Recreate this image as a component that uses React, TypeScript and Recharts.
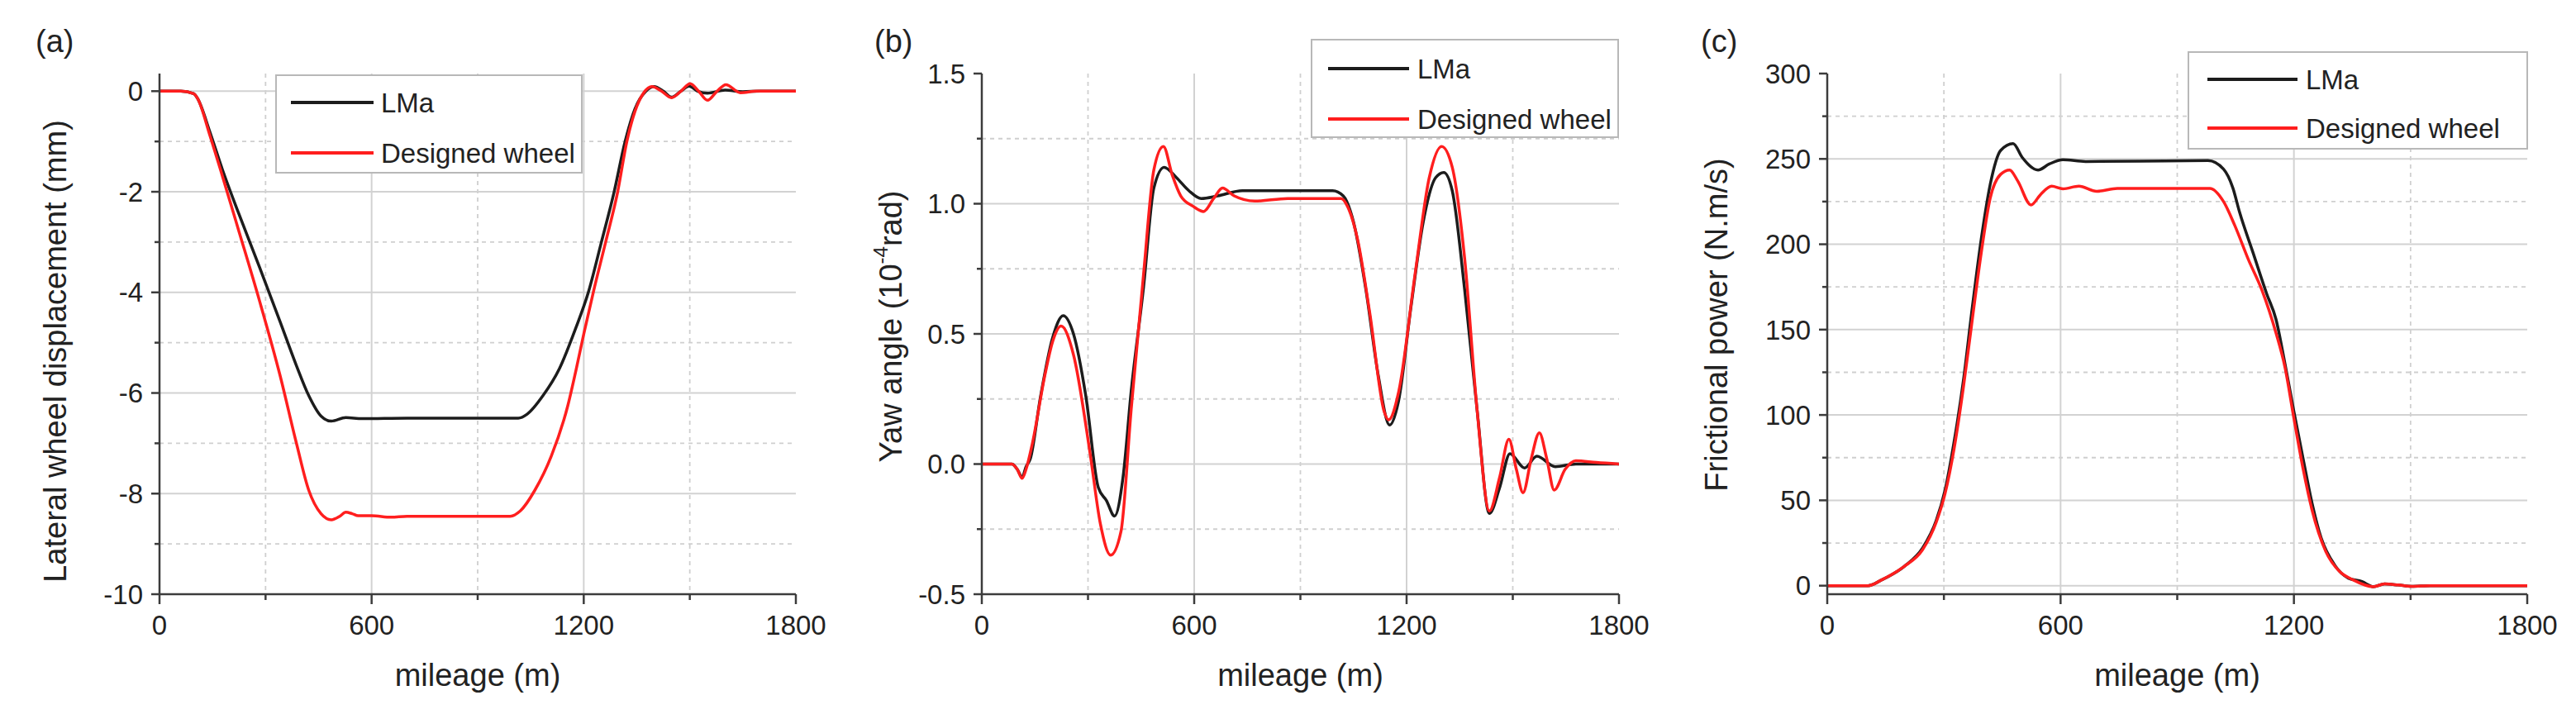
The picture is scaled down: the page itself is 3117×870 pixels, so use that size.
import React from 'react';
import { LineChart, Line, XAxis, YAxis, CartesianGrid, Legend, Label } from 'recharts';

const FONT = "'Liberation Sans', Arial, sans-serif";
const AXIS = '#3c3c3c';
const BLACK = '#1c1c1c';
const RED = '#ff1e1e';

const seriesNames = ['LMa', 'Designed wheel'];

// mileage axis shared by the three panels
const mileageTicks = [0, 300, 600, 900, 1200, 1500, 1800];
const mileageMajor = [0, 600, 1200, 1800];

// (a) lateral wheel displacement (mm)
const dispTicks = [0, -1, -2, -3, -4, -5, -6, -7, -8, -9, -10];
const dispMajor = [0, -2, -4, -6, -8, -10];
const xDispLMa = [0, 60, 97, 108, 143, 178, 224, 283, 341, 387, 422, 457, 486, 527, 573, 700, 900, 1015, 1040, 1085, 1131, 1178, 1213, 1250, 1286, 1317, 1345, 1376, 1399, 1425, 1448, 1475, 1498, 1522, 1550, 1600, 1650, 1700, 1800];
const yDispLMa = [0, 0, -0.05, -0.15, -0.82, -1.56, -2.43, -3.5, -4.58, -5.45, -6.05, -6.46, -6.56, -6.49, -6.51, -6.5, -6.5, -6.5, -6.42, -6.05, -5.52, -4.7, -4.0, -3.0, -2.0, -1.0, -0.35, 0.0, 0.09, 0.0, -0.12, 0.0, 0.1, 0.0, -0.04, 0.02, -0.01, 0, 0];
const xDispNew = [0, 60, 97, 108, 143, 178, 224, 283, 341, 387, 422, 457, 486, 510, 527, 545, 562, 600, 655, 700, 992, 1021, 1062, 1108, 1155, 1178, 1201, 1227, 1262, 1296, 1322, 1345, 1370, 1393, 1420, 1448, 1475, 1501, 1525, 1550, 1577, 1602, 1643, 1690, 1800];
const yDispNew = [0, 0, -0.05, -0.15, -0.89, -1.69, -2.77, -4.17, -5.65, -6.99, -7.93, -8.4, -8.52, -8.45, -8.37, -8.4, -8.44, -8.44, -8.47, -8.45, -8.45, -8.34, -7.93, -7.26, -6.25, -5.55, -4.8, -4.0, -3.0, -2.0, -1.0, -0.4, -0.03, 0.09, 0.0, -0.13, 0.0, 0.15, 0.0, -0.18, 0.0, 0.13, -0.03, 0, 0];

// (b) yaw angle (1e-4 rad)
const yawTicks = [-0.5, -0.25, 0, 0.25, 0.5, 0.75, 1.0, 1.25, 1.5];
const yawMajor = [-0.5, 0, 0.5, 1.0, 1.5];
const xYawLMa = [0, 85, 100, 114, 125, 137, 166, 201, 230, 259, 294, 329, 352, 375, 399, 422, 457, 486, 515, 550, 585, 620, 666, 736, 991, 1021, 1050, 1085, 1120, 1152, 1177, 1212, 1247, 1282, 1305, 1329, 1364, 1399, 1434, 1463, 1492, 1533, 1568, 1620, 1678, 1800];
const yYawLMa = [0, 0, -0.02, -0.05, -0.01, 0.02, 0.26, 0.49, 0.57, 0.5, 0.26, -0.09, -0.14, -0.2, -0.05, 0.28, 0.68, 1.06, 1.14, 1.1, 1.05, 1.02, 1.03, 1.05, 1.05, 1.03, 0.93, 0.67, 0.34, 0.15, 0.24, 0.6, 0.93, 1.1, 1.12, 1.05, 0.67, 0.21, -0.19, -0.09, 0.04, -0.015, 0.03, -0.01, 0, 0];
const xYawNew = [0, 85, 100, 114, 125, 143, 178, 200, 224, 259, 306, 335, 364, 393, 422, 457, 486, 513, 538, 562, 597, 626, 655, 680, 713, 771, 864, 1015, 1033, 1062, 1096, 1137, 1149, 1178, 1224, 1264, 1299, 1329, 1364, 1399, 1434, 1463, 1489, 1510, 1529, 1552, 1575, 1596, 1617, 1648, 1678, 1736, 1800];
const yYawNew = [0, 0, -0.02, -0.055, -0.02, 0.08, 0.34, 0.47, 0.53, 0.42, 0.04, -0.23, -0.35, -0.26, 0.21, 0.73, 1.13, 1.22, 1.11, 1.03, 0.99, 0.97, 1.02, 1.06, 1.03, 1.01, 1.02, 1.02, 0.99, 0.86, 0.58, 0.2, 0.17, 0.28, 0.73, 1.1, 1.22, 1.14, 0.79, 0.21, -0.18, -0.05, 0.095, -0.02, -0.11, 0.02, 0.12, 0.02, -0.1, -0.02, 0.013, 0.006, 0];

// (c) frictional power (N.m/s)
const powTicks = [0, 25, 50, 75, 100, 125, 150, 175, 200, 225, 250, 275, 300];
const powMajor = [0, 50, 100, 150, 200, 250, 300];
const xPowLMa = [0, 105, 140, 198, 245, 280, 303, 326, 350, 373, 396, 419, 446, 478, 501, 542, 571, 606, 664, 804, 979, 1019, 1043, 1060, 1095, 1130, 1154, 1177, 1200, 1224, 1247, 1270, 1305, 1340, 1375, 1404, 1433, 1468, 1503, 1550, 1800];
const yPowLMa = [0, 0, 3.4, 11.3, 22, 38, 56, 84, 120, 163, 203, 235, 255, 259, 251, 243.5, 247, 249.5, 248.5, 248.7, 249, 244, 233, 219, 195, 171, 156, 130, 102, 74, 48, 28, 12, 4.4, 2.4, -0.6, 1, 0.4, -0.4, 0, 0];
const xPowNew = [0, 105, 140, 198, 245, 280, 303, 326, 350, 373, 396, 419, 446, 469, 490, 524, 548, 577, 606, 647, 693, 746, 984, 1019, 1048, 1083, 1118, 1154, 1177, 1200, 1224, 1247, 1282, 1317, 1352, 1404, 1433, 1468, 1503, 1550, 1800];
const yPowNew = [0, 0, 3.4, 11.3, 21, 37, 54, 80, 116, 156, 195, 227, 241, 243.5, 237, 223, 229, 234, 232.5, 234, 231, 232.7, 232.7, 225, 211, 191, 173, 148, 128, 98, 68, 44, 20, 8.4, 3.4, -0.6, 1, 0.4, -0.4, 0, 0];

const zip = (xs: number[], ys: number[]) => xs.map((x, i) => ({ x, y: ys[i] }));

const TICK_SIZE = 12;
const TICK_MARGIN = 14;
const YTICK_SIZE = 10;
const YTICK_MARGIN = 10;

function makeXTick(major: number[]) {
  return (props: any) => {
    const { x, y, payload } = props;
    const isMajor = major.includes(payload.value);
    const axisY = y - TICK_SIZE - TICK_MARGIN;
    return (
      <g>
        <line x1={x} x2={x} y1={axisY} y2={axisY + (isMajor ? 12 : 7)} stroke={AXIS} strokeWidth={2.5} />
        {isMajor && (
          <text x={x} y={y} dy="0.71em" textAnchor="middle" fontSize={33} fill="#222" fontFamily={FONT}>
            {payload.value}
          </text>
        )}
      </g>
    );
  };
}

function makeYTick(major: number[], fmt: (v: number) => string) {
  return (props: any) => {
    const { x, y, payload } = props;
    const isMajor = major.includes(payload.value);
    const axisX = x + YTICK_SIZE + YTICK_MARGIN;
    return (
      <g>
        <line x1={axisX - (isMajor ? 10 : 6)} x2={axisX} y1={y} y2={y} stroke={AXIS} strokeWidth={2.5} />
        {isMajor && (
          <text x={x} y={y} dy="0.355em" textAnchor="end" fontSize={33} fill="#222" fontFamily={FONT}>
            {fmt(payload.value)}
          </text>
        )}
      </g>
    );
  };
}

interface LegendBox {
  left: number;
  top: number;
  width: number;
  height: number;
  lineX: number;
  lineW: number;
  textX: number;
  rows: number[];
}

function makeLegend(box: LegendBox) {
  return (props: any) => {
    const items = [...(props.payload || [])].sort(
      (a: any, b: any) => seriesNames.indexOf(a.value) - seriesNames.indexOf(b.value)
    );
    return (
      <div
        style={{
          position: 'relative',
          width: box.width,
          height: box.height,
          boxSizing: 'border-box',
          border: '2px solid #b8b8b8',
          background: '#fff',
          fontFamily: FONT,
        }}
      >
        {items.map((p: any, i: number) => (
          <React.Fragment key={p.value}>
            <div
              style={{
                position: 'absolute',
                left: box.lineX,
                top: box.rows[i] - 2,
                width: box.lineW,
                height: 3.5,
                background: p.color,
              }}
            />
            <div
              style={{
                position: 'absolute',
                left: box.textX,
                top: box.rows[i] - 19,
                fontSize: 33,
                lineHeight: '40px',
                color: '#222',
                whiteSpace: 'nowrap',
              }}
            >
              {p.value}
            </div>
          </React.Fragment>
        ))}
      </div>
    );
  };
}

interface PanelProps {
  left: number;
  width: number;
  yAxisWidth: number;
  rightMargin: number;
  yDomain: [number, number];
  yTicks: number[];
  yMajor: number[];
  yFmt: (v: number) => string;
  lma: { x: number; y: number }[];
  designed: { x: number; y: number }[];
  legend: LegendBox;
  yTitle: React.ReactNode;
  yTitleX: number;
  yTitleY: number;
}

function Panel(p: PanelProps) {
  const minorX = mileageTicks.filter((t) => !mileageMajor.includes(t));
  const majorXInner = mileageMajor.filter((t) => t !== 0 && t !== 1800);
  const minorY = p.yTicks.filter((t) => !p.yMajor.includes(t));
  const majorYInner = p.yMajor.filter((t) => t > p.yDomain[0] && t < p.yDomain[1]);
  return (
    <div style={{ position: 'absolute', left: p.left, top: 0 }}>
      <LineChart width={p.width} height={870} margin={{ top: 89, right: p.rightMargin, bottom: 0, left: 0 }}>
        <CartesianGrid
          horizontal
          vertical
          horizontalValues={minorY}
          verticalValues={minorX}
          stroke="#cfcfcf"
          strokeWidth={1.8}
          strokeDasharray="5 5"
        />
        <CartesianGrid
          horizontal
          vertical
          horizontalValues={majorYInner}
          verticalValues={majorXInner}
          stroke="#d2d2d2"
          strokeWidth={2}
        />
        <XAxis
          dataKey="x"
          type="number"
          domain={[0, 1800]}
          ticks={mileageTicks}
          interval={0}
          height={151}
          tickSize={TICK_SIZE}
          tickMargin={TICK_MARGIN}
          tickLine={false}
          axisLine={{ stroke: AXIS, strokeWidth: 2.5 }}
          tick={makeXTick(mileageMajor)}
          allowDataOverflow
        >
          <Label
            content={(lp: any) => {
              const vb = lp.viewBox || {};
              return (
                <text
                  x={vb.x + vb.width / 2}
                  y={817}
                  textAnchor="middle"
                  dominantBaseline="central"
                  fontSize={38}
                  fill="#222"
                  fontFamily={FONT}
                >
                  mileage (m)
                </text>
              );
            }}
          />
        </XAxis>
        <XAxis
          xAxisId="frame"
          orientation="top"
          type="number"
          domain={[0, 1800]}
          height={0}
          tick={false}
          tickLine={false}
          axisLine={{ stroke: '#505050', strokeWidth: 2.5 }}
        />
        <YAxis
          type="number"
          domain={p.yDomain}
          ticks={p.yTicks}
          interval={0}
          width={p.yAxisWidth}
          tickSize={YTICK_SIZE}
          tickMargin={YTICK_MARGIN}
          tickLine={false}
          axisLine={{ stroke: AXIS, strokeWidth: 2.5 }}
          tick={makeYTick(p.yMajor, p.yFmt)}
          allowDataOverflow
        >
          <Label
            content={() => (
              <text
                x={p.yTitleX}
                y={p.yTitleY}
                transform={`rotate(-90 ${p.yTitleX} ${p.yTitleY})`}
                textAnchor="middle"
                dominantBaseline="central"
                fontSize={38}
                fill="#222"
                fontFamily={FONT}
              >
                {p.yTitle}
              </text>
            )}
          />
        </YAxis>
        <YAxis
          yAxisId="frame"
          orientation="right"
          type="number"
          domain={p.yDomain}
          width={0}
          tick={false}
          tickLine={false}
          axisLine={{ stroke: '#505050', strokeWidth: 2.5 }}
        />
        <Legend
          layout="horizontal"
          verticalAlign="middle"
          align="center"
          wrapperStyle={{ left: p.legend.left, top: p.legend.top, width: p.legend.width, height: p.legend.height }}
          content={makeLegend(p.legend)}
        />
        <Line
          data={p.lma}
          dataKey="y"
          name="LMa"
          type="monotone"
          stroke={BLACK}
          strokeWidth={3.5}
          dot={false}
          isAnimationActive={false}
        />
        <Line
          data={p.designed}
          dataKey="y"
          name="Designed wheel"
          type="monotone"
          stroke={RED}
          strokeWidth={3.5}
          dot={false}
          isAnimationActive={false}
        />
      </LineChart>
    </div>
  );
}

const panelLabel = (text: string, left: number) => (
  <div
    style={{
      position: 'absolute',
      left,
      top: 30,
      fontSize: 38,
      lineHeight: '40px',
      fontFamily: FONT,
      color: '#222',
    }}
  >
    {text}
  </div>
);

export default function App() {
  return (
    <div style={{ position: 'absolute', left: 0, top: 0, width: 3117, height: 870, background: '#fff', fontFamily: FONT }}>
      <Panel
        left={0}
        width={1000}
        yAxisWidth={193}
        rightMargin={37}
        yDomain={[-10, 0.35]}
        yTicks={dispTicks}
        yMajor={dispMajor}
        yFmt={(v) => String(v)}
        lma={zip(xDispLMa, yDispLMa)}
        designed={zip(xDispNew, yDispNew)}
        legend={{ left: 333, top: 90, width: 372, height: 120, lineX: 17, lineW: 100, textX: 126, rows: [32, 93] }}
        yTitle="Lateral wheel displacement (mm)"
        yTitleX={67}
        yTitleY={425}
      />
      <Panel
        left={1000}
        width={1000}
        yAxisWidth={188}
        rightMargin={41}
        yDomain={[-0.5, 1.5]}
        yTicks={yawTicks}
        yMajor={yawMajor}
        yFmt={(v) => v.toFixed(1)}
        lma={zip(xYawLMa, yYawLMa)}
        designed={zip(xYawNew, yYawNew)}
        legend={{ left: 586, top: 47, width: 373, height: 120, lineX: 19, lineW: 98, textX: 127, rows: [34, 95] }}
        yTitle={
          <>
            Yaw angle (10
            <tspan dy={-13} fontSize={24}>
              -4
            </tspan>
            <tspan dy={13}>rad)</tspan>
          </>
        }
        yTitleX={78}
        yTitleY={395}
      />
      <Panel
        left={2000}
        width={1117}
        yAxisWidth={211}
        rightMargin={59}
        yDomain={[-5, 300]}
        yTicks={powTicks}
        yMajor={powMajor}
        yFmt={(v) => String(v)}
        lma={zip(xPowLMa, yPowLMa)}
        designed={zip(xPowNew, yPowNew)}
        legend={{ left: 647, top: 62, width: 412, height: 119, lineX: 22, lineW: 109, textX: 141, rows: [32, 91] }}
        yTitle="Frictional power (N.m/s)"
        yTitleX={77}
        yTitleY={393}
      />
      {panelLabel('(a)', 43)}
      {panelLabel('(b)', 1058)}
      {panelLabel('(c)', 2058)}
    </div>
  );
}
